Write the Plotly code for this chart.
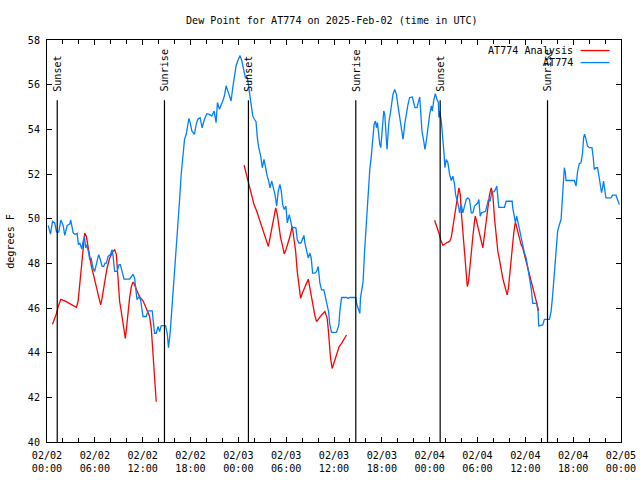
import pandas as pd
import plotly.graph_objects as go

BASE = pd.Timestamp("2025-02-02 00:00")

# Observed dew point (hours after 2025-02-02 00:00 UTC, deg F)
obs_hours = [0.15, 0.44, 0.69, 0.98, 1.19, 1.48, 1.73, 2.03, 2.23, 2.53, 2.85, 2.98, 3.28, 3.53, 3.78, 3.94,
             4.11, 4.36, 4.53, 4.69, 4.86, 4.98, 5.19, 5.36, 5.53, 5.78, 5.98, 6.20, 6.48, 6.70, 6.91, 7.11,
             7.28, 7.45, 7.66, 7.95, 8.16, 8.29, 8.49, 8.79, 9.04, 9.20, 9.45, 9.66, 10.36, 10.58, 10.79, 10.99,
             11.11, 11.29, 11.54, 11.74, 12.04, 12.45, 12.67, 13.20, 13.49, 13.70, 13.92, 14.12, 14.33, 14.54,
             14.87, 15.08, 15.24, 15.46, 15.58, 15.79, 15.99, 16.21, 16.42, 16.62, 16.83, 17.05, 17.25, 17.46,
             17.67, 17.80, 17.96, 18.17, 18.50, 18.71, 18.92, 19.21, 19.46, 19.75, 20.05, 20.38, 20.68, 20.96,
             21.21, 21.38, 21.63, 21.84, 22.05, 22.25, 22.47, 22.68, 22.88, 23.09, 23.30, 23.50, 23.72, 23.93,
             24.22, 24.43, 24.63, 24.88, 25.13, 25.38, 25.59, 25.81, 26.01, 26.22, 26.38, 26.56, 26.81, 27.01,
             27.22, 27.38, 27.63, 27.81, 27.97, 28.19, 28.39, 28.60, 28.81, 29.01, 29.22, 29.39, 29.56, 29.76,
             29.97, 30.14, 30.39, 30.56, 30.76, 31.01, 31.23, 31.39, 31.60, 31.85, 32.07, 32.23, 32.35, 32.57,
             32.77, 32.98, 33.14, 33.32, 33.60, 33.82, 34.02, 34.23, 34.44, 34.73, 34.94, 35.14, 35.32, 35.48,
             35.69, 36.32, 36.61, 36.73, 36.95, 37.57, 37.77, 37.98, 38.74, 38.82, 39.02, 39.24, 39.32, 39.49,
             39.65, 39.86, 40.08, 40.28, 40.49, 40.70, 40.90, 41.03, 41.20, 41.33, 41.45, 41.61, 41.74, 41.87,
             41.95, 42.08, 42.24, 42.37, 42.49, 42.65, 42.78, 42.90, 43.08, 43.24, 43.40, 43.62, 43.83, 44.03,
             44.24, 44.46, 44.66, 44.87, 45.08, 45.28, 45.49, 45.83, 45.99, 46.16, 46.41, 46.58, 46.75, 46.87,
             47.03, 47.25, 47.41, 47.58, 47.78, 48.00, 48.21, 48.34, 48.50, 48.71, 48.91, 49.09, 49.16, 49.25,
             49.46, 49.59, 49.69, 49.81, 49.91, 50.09, 50.29, 50.50, 50.71, 50.91, 51.13, 51.25, 51.41, 51.63,
             51.75, 51.96, 52.16, 52.38, 52.59, 52.79, 53.00, 53.22, 53.42, 53.63, 53.84, 54.04, 54.17, 54.34,
             54.51, 54.79, 55.01, 55.17, 55.38, 55.59, 55.79, 56.05, 56.26, 56.42, 56.55, 56.67, 57.38, 57.60,
             58.35, 58.42, 58.64, 58.76, 58.92, 59.05, 59.26, 59.47, 59.67, 59.89, 60.10, 60.30, 60.51, 60.73,
             60.93, 61.43, 61.60, 61.68, 62.18, 62.39, 63.02, 63.23, 63.43, 63.64, 63.85, 64.05, 64.27, 64.48,
             64.68, 64.89, 65.02, 65.10, 66.15, 66.36, 66.56, 66.77, 66.98, 67.18, 67.31, 67.43, 67.61, 67.81,
             68.02, 68.36, 68.52, 68.65, 68.86, 69.06, 69.27, 69.40, 69.56, 69.69, 69.81, 69.99, 70.11, 70.74,
             70.94, 71.37, 71.56, 71.78]
obs_vals = [49.70, 49.31, 49.88, 49.81, 49.40, 49.40, 49.94, 49.70, 49.25, 49.70, 49.76, 49.94, 49.36, 49.29, 49.34, 48.84,
            48.91, 48.64, 48.98, 49.20, 48.69, 48.84, 48.54, 48.16, 48.24, 47.78, 47.64, 47.94, 48.39, 48.16, 47.86, 47.86,
            48.01, 48.01, 48.31, 48.39, 48.61, 48.31, 47.64, 47.64, 47.94, 47.94, 47.64, 47.29, 47.29, 47.41, 47.51, 47.34,
            47.04, 46.37, 46.51, 46.37, 45.62, 45.62, 45.87, 45.87, 44.87, 44.87, 45.17, 44.94, 45.21, 45.21,
            45.21, 44.87, 44.22, 44.94, 45.54, 46.59, 47.34, 48.39, 49.58, 50.78, 51.98, 53.03, 53.55, 53.78,
            54.30, 54.49, 54.30, 53.93, 53.78, 54.22, 54.45, 54.52, 54.07, 54.45, 54.70, 54.67, 54.60, 54.82,
            54.30, 55.20, 54.90, 55.05, 55.27, 55.50, 55.95, 55.72, 55.50, 55.27, 55.87, 56.47, 56.85, 57.07,
            57.30, 57.07, 56.77, 56.32, 56.32, 55.72, 55.12, 54.60, 54.45, 54.34, 53.63, 53.18, 52.80, 52.28,
            52.65, 52.28, 51.90, 51.68, 51.38, 51.68, 51.38, 51.08, 50.56, 51.23, 51.53, 51.23, 50.63, 50.41,
            50.56, 49.81, 50.18, 49.88, 49.58, 49.61, 49.58, 49.06, 48.91, 48.91, 49.13, 49.25, 48.91, 48.46,
            48.24, 48.46, 48.24, 47.56, 47.56, 47.64, 47.86, 47.11, 46.81, 46.81, 46.51, 46.14, 45.84, 45.24,
            44.91, 44.91, 45.24, 45.84, 46.47, 46.47, 46.43, 46.47, 46.47, 46.21, 45.99, 45.76, 46.44, 46.74,
            47.19, 48.69, 49.88, 51.38, 52.20, 52.88, 53.63, 54.23, 54.37, 54.07, 54.30, 53.55, 53.33, 53.18,
            53.63, 54.23, 54.82, 54.67, 53.93, 53.10, 53.78, 54.37, 54.75, 55.12, 55.57, 55.79, 55.57, 55.05,
            54.52, 53.93, 53.55, 54.23, 54.82, 55.12, 55.42, 55.45, 55.20, 54.97, 54.97, 55.27, 55.45, 54.82,
            53.93, 53.48, 53.10, 53.48, 54.15, 54.67, 55.05, 54.82, 55.27, 55.60, 55.35, 55.20, 54.52, 54.82,
            54.37, 53.93, 53.48, 52.88, 52.28, 52.65, 52.50, 51.98, 51.71, 51.90, 51.53, 51.08, 50.86, 50.56,
            50.26, 50.63, 50.26, 50.56, 50.86, 50.93, 50.86, 50.26, 50.26, 50.56, 50.63, 50.71, 50.86, 50.11,
            50.26, 50.29, 50.33, 50.56, 50.86, 50.78, 51.20, 51.20, 51.31, 51.46, 51.08, 50.51, 50.51, 50.78,
            50.78, 50.48, 50.06, 49.81, 50.11, 49.88, 49.46, 49.06, 48.84, 48.46, 48.24, 47.86, 47.34, 46.89,
            46.21, 46.21, 45.84, 45.20, 45.24, 45.49, 45.49, 45.84, 46.59, 47.49, 48.54, 49.43, 49.73, 49.96,
            51.08, 52.28, 52.06, 51.71, 51.71, 51.46, 52.13, 52.46, 52.50, 52.95, 53.63, 53.78, 53.55, 53.25,
            53.18, 53.18, 52.73, 52.20, 52.28, 52.28, 51.83, 51.53, 51.16, 51.38, 51.68, 51.23, 50.93, 50.93,
            51.05, 51.05, 50.86, 50.63]

# Analysis dew point, three separate runs
ana1_hours = [0.69, 0.98, 1.19, 1.40, 1.73, 2.23, 2.85, 3.28, 3.69, 3.90, 4.11, 4.32, 4.53, 4.73, 4.94, 5.16,
              5.36, 5.57, 5.78, 5.98, 6.20, 6.41, 6.61, 6.73, 6.91, 7.11, 7.32, 7.53, 7.86, 8.29, 8.49, 8.70,
              8.91, 9.11, 9.32, 9.54, 9.74, 9.82, 9.95, 10.16, 10.36, 10.58, 10.79, 10.99, 11.20, 11.41, 11.61,
              12.04, 12.37, 12.67, 12.87, 13.08, 13.20, 13.29, 13.45, 13.58, 13.70]
ana1_vals = [45.27, 45.54, 45.76, 46.06, 46.39, 46.32, 46.21, 46.14, 46.03, 46.29, 47.11, 47.94, 48.69, 49.36, 49.20, 48.69,
             48.24, 47.86, 47.56, 47.26, 46.96, 46.66, 46.32, 46.14, 46.44, 46.81, 47.34, 47.78, 48.24, 48.54, 48.61, 48.39,
             47.34, 46.29, 45.84, 45.39, 44.79, 44.64, 45.02, 45.84, 46.44, 46.96, 47.16, 47.04, 46.81, 46.66, 46.51,
             46.32, 46.06, 45.84, 45.62, 45.09, 44.49, 43.59, 42.84, 42.28, 41.80]
ana2_hours = [24.72, 25.06, 25.26, 25.47, 25.68, 25.97, 26.31, 26.51, 26.72, 26.93, 27.13, 27.47, 27.76, 27.97,
              28.19, 28.39, 28.69, 28.89, 29.10, 29.31, 29.51, 29.76, 29.97, 30.19, 30.48, 30.76, 30.98, 31.19,
              31.39, 31.60, 31.81, 32.02, 32.35, 32.77, 32.98, 33.19, 33.39, 33.60, 33.82, 34.11, 34.44, 34.86,
              35.14, 35.27, 35.39, 35.57, 35.77, 35.98, 36.32, 36.65, 36.95, 37.23, 37.57]
ana2_vals = [52.40, 51.90, 51.60, 51.23, 50.93, 50.63, 50.33, 50.11, 49.88, 49.66, 49.36, 49.06, 48.76, 49.13,
             49.58, 49.96, 50.48, 50.18, 49.58, 49.13, 48.84, 48.42, 48.61, 48.84, 49.21, 49.66, 49.13, 48.54,
             47.64, 46.89, 46.44, 46.66, 46.96, 47.29, 46.89, 46.44, 45.99, 45.66, 45.39, 45.54, 45.69, 45.84,
             45.54, 45.09, 44.34, 43.74, 43.29, 43.52, 43.97, 44.27, 44.42, 44.57, 44.79]
ana3_hours = [48.62, 48.91, 49.16, 49.37, 49.66, 50.09, 50.50, 50.71, 50.91, 51.13, 51.34, 51.54, 51.66, 51.84,
              51.96, 52.16, 52.38, 52.59, 52.72, 52.88, 53.00, 53.22, 53.42, 53.63, 53.72, 53.84, 54.04, 54.26,
              54.47, 54.67, 54.88, 55.09, 55.29, 55.51, 55.72, 55.92, 56.13, 56.35, 56.55, 56.76, 56.97, 57.17,
              57.38, 57.60, 57.72, 57.88, 58.10, 58.30, 58.55, 58.73, 58.85, 59.05, 59.26, 59.47, 59.67, 59.89,
              60.10, 60.30, 60.51, 60.73, 60.93, 61.14, 61.35, 61.55, 61.68]
ana3_vals = [49.93, 49.66, 49.36, 49.06, 48.81, 48.91, 48.98, 49.16, 49.58, 50.03, 50.63, 51.08, 51.38, 51.08,
             50.33, 49.43, 48.39, 47.34, 46.96, 47.19, 47.71, 48.39, 49.21, 49.88, 50.11, 49.96, 49.66, 49.36,
             49.06, 48.69, 49.28, 49.88, 50.48, 51.08, 51.38, 51.08, 50.03, 49.13, 48.54, 48.16, 47.71, 47.34,
             47.04, 46.81, 46.59, 46.89, 47.78, 48.69, 49.36, 49.81, 49.73, 49.43, 49.13, 48.84, 48.69, 48.39,
             48.09, 47.79, 47.49, 47.19, 46.89, 46.59, 46.29, 46.06, 45.87]

sun_events = ["2025-02-02 01:17", "2025-02-02 14:44", "2025-02-03 01:16",
              "2025-02-03 14:44", "2025-02-04 01:19", "2025-02-04 14:47"]
sun_labels = ["Sunset", "Sunrise", "Sunset", "Sunrise", "Sunset", "Sunrise"]

y_ticks = [40, 42, 44, 46, 48, 50, 52, 54, 56, 58]

RED = "#ff0000"
BLUE = "#0080ff"
FONT = "DejaVu Sans Mono"
K = 648 / 640  # the photographed page appears reduced by this factor
FS = 10.1


def to_time(hours):
    return [BASE + pd.Timedelta(hours=h) for h in hours]


# join analysis runs with gaps
ana_x, ana_y = [], []
for hs, vs in [(ana1_hours, ana1_vals), (ana2_hours, ana2_vals), (ana3_hours, ana3_vals)]:
    if ana_x:
        ana_x.append(None)
        ana_y.append(None)
    ana_x.extend(to_time(hs))
    ana_y.extend(vs)

fig = go.Figure()
fig.add_trace(go.Scatter(x=ana_x, y=ana_y, mode="lines", name="AT774 Analysis",
                         line=dict(color=RED, width=1.3), connectgaps=False))
fig.add_trace(go.Scatter(x=to_time(obs_hours), y=obs_vals, mode="lines", name="AT774",
                         line=dict(color=BLUE, width=1.3)))

# plot area in target picture pixels
L, R, T, B = 46.5, 621.5, 39.5, 440.0
W_, H_ = R - L, B - T


def px(x):
    return (x - L) / W_


def py(y):
    return (B - y) / H_


shapes = []
annotations = []
for t, lab in zip(sun_events, sun_labels):
    shapes.append(dict(type="line", xref="x", yref="y", x0=t, x1=t, y0=40, y1=55.3,
                       line=dict(color="black", width=1.2)))
    annotations.append(dict(x=t, y=55.6, xref="x", yref="y", text=lab, textangle=-90,
                            showarrow=False, xanchor="center", yanchor="bottom",
                            font=dict(family=FONT, size=FS, color="black")))

# legend (gnuplot style: text right-aligned, sample line to the right)
for name, col, ypx in [("AT774 Analysis", RED, 50), ("AT774", BLUE, 62)]:
    annotations.append(dict(x=px(575), y=py(ypx), xref="paper", yref="paper", text=name,
                            showarrow=False, xanchor="right", yanchor="middle",
                            font=dict(family=FONT, size=FS, color="black")))
    shapes.append(dict(type="line", xref="paper", yref="paper", x0=px(581), x1=px(610),
                       y0=py(ypx), y1=py(ypx), line=dict(color=col, width=1.3)))

annotations.append(dict(x=px(332), y=py(20), xref="paper", yref="paper",
                        text="Dew Point for AT774 on 2025-Feb-02 (time in UTC)",
                        showarrow=False, xanchor="center", yanchor="middle",
                        font=dict(family=FONT, size=FS, color="black")))
annotations.append(dict(x=px(10), y=py(240), xref="paper", yref="paper", text="degrees F",
                        textangle=-90, showarrow=False, xanchor="center", yanchor="middle",
                        font=dict(family=FONT, size=FS, color="black")))

fig.update_layout(
    width=640 * K, height=480 * K,
    margin=dict(l=L * K, r=(640 - R) * K, t=T * K, b=(480 - B) * K, pad=0),
    paper_bgcolor="white", plot_bgcolor="white",
    showlegend=False,
    font=dict(family=FONT, size=FS, color="black"),
    shapes=shapes, annotations=annotations,
)
fig.update_xaxes(
    type="date", range=["2025-02-02 00:00", "2025-02-05 00:00"],
    tick0="2025-02-02 00:00", dtick=6 * 3600 * 1000, tickformat="%m/%d<br>%H:%M",
    ticks="inside", ticklen=5, tickcolor="black", showgrid=False, zeroline=False,
    showline=True, linecolor="black", linewidth=1, mirror="ticks",
    minor=dict(dtick=2 * 3600 * 1000, ticks="inside", ticklen=4, tickcolor="black", showgrid=False),
    tickfont=dict(family=FONT, size=FS, color="black"),
    ticklabelstandoff=4,
)
fig.update_yaxes(
    range=[40, 58], tickvals=y_ticks, ticktext=[str(v) for v in y_ticks],
    ticks="inside", ticklen=5, tickcolor="black", showgrid=False, zeroline=False,
    showline=True, linecolor="black", linewidth=1, mirror="ticks",
    tickfont=dict(family=FONT, size=FS, color="black"),
    ticklabelstandoff=4,
)

# remove the default page margin so the figure starts at the window corner
fig.write_html("out.html", config={"displayModeBar": False},
               post_script="document.body.style.margin='0';document.body.style.overflow='hidden';")
